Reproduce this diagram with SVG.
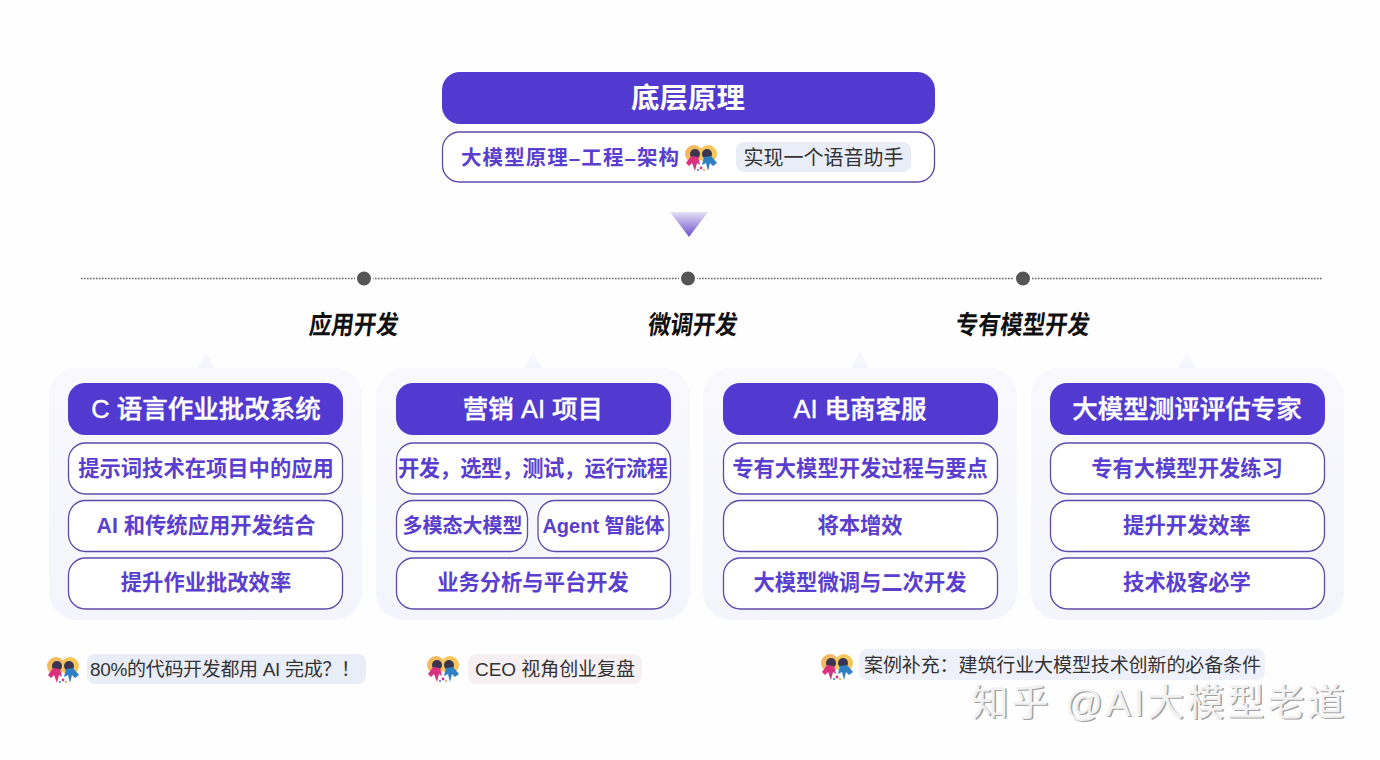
<svg xmlns="http://www.w3.org/2000/svg" width="1380" height="760" viewBox="0 0 1380 760">
<style>
text{font-family:"Liberation Sans","Noto Sans CJK SC",sans-serif;text-anchor:middle;dominant-baseline:central}
.card{fill:url(#cardGrad)}
.head{fill:#5239cf}
.row{fill:#fff;stroke:#5d4aa8;stroke-width:1.3}
.ht{fill:#fff;font-size:25.500px;font-weight:500;stroke:#fff;stroke-width:.4}
.rt{fill:#5a3fcf;font-size:21.300px;font-weight:700}
.tt{fill:#111;font-size:26px;font-weight:700}
.nt{fill:#333;font-size:19px;text-anchor:start}
</style>
<defs>
<linearGradient id="cardGrad" x1="0" y1="0" x2="0" y2="1"><stop offset="0" stop-color="#f8f8fd"/><stop offset="1" stop-color="#f4f5fc"/></linearGradient>
<linearGradient id="tri" x1="0" y1="0" x2="0" y2="1"><stop offset="0" stop-color="#e4e0f6"/><stop offset="1" stop-color="#6a50c8"/></linearGradient>
<symbol id="emoji" viewBox="0 0 32 26" overflow="visible">
<circle cx="9" cy="9" r="9" fill="#f3b95f"/><circle cx="23" cy="9" r="9" fill="#f6c65b"/>
<circle cx="10" cy="9" r="5" fill="#3a3550"/><circle cx="22" cy="9" r="5" fill="#3a3550"/>
<path d="M1 18L6 11L13 12L15 20L12 18L10 26L7 18L4 21Z" fill="#d9327e"/>
<path d="M17 20L19 12L26 11L32 18L28 21L25 18L23 26L21 18Z" fill="#2f7fc4"/>
<circle cx="16" cy="23" r="1.4" fill="#d9327e"/><circle cx="13" cy="25" r="1" fill="#2f7fc4"/><circle cx="19" cy="25" r="1" fill="#e9a13b"/>
</symbol>
</defs>
<rect width="1380" height="760" fill="#fefefe"/>
<g id="top-head"><rect x="442" y="72" width="493" height="52" rx="18" class="head"/><text x="688" y="98" fill="#fff" font-size="28.500" font-weight="700">底层原理</text></g>
<g id="top-sub"><rect x="442.500" y="132" width="492" height="50" rx="17" class="row"/>
<text x="461" y="157" class="rt" style="font-size:20.500px;text-anchor:start" textLength="218">大模型原理–工程–架构</text>
<use href="#emoji" x="685" y="145" width="32" height="26"/>
<rect x="736" y="142" width="175" height="30" rx="8" fill="#e9edf7"/>
<text x="823.500" y="157.500" fill="#333" font-size="20">实现一个语音助手</text></g>
<g id="connectors">
<path d="M670 212H708L689 237Z" fill="url(#tri)"/>
<line x1="81" y1="278.500" x2="1323" y2="278.500" stroke="#666" stroke-width="1.600" stroke-dasharray="1.600 1.400"/>
<circle cx="364" cy="278.500" r="8" fill="#555" stroke="#fff" stroke-width="2"/>
<circle cx="688" cy="278.500" r="8" fill="#555" stroke="#fff" stroke-width="2"/>
<circle cx="1023" cy="278.500" r="8" fill="#555" stroke="#fff" stroke-width="2"/>
</g>
<g id="titles">
<text class="tt" transform="translate(354 325) skewX(-7) scale(.86 1)">应用开发</text>
<text class="tt" transform="translate(693 325) skewX(-7) scale(.86 1)">微调开发</text>
<text class="tt" transform="translate(1023 325) skewX(-7) scale(.86 1)">专有模型开发</text>
</g>
<g id="card-1"><path d="M197 368L206 352L215 368Z" class="card"/><rect x="49" y="368" width="313" height="252" rx="28" class="card"/>
<rect x="68" y="383" width="275" height="52" rx="17" class="head"/><text x="206" y="409" class="ht">C 语言作业批改系统</text>
<rect x="68.500" y="443" width="274" height="51" rx="17" class="row"/><text x="206" y="468.500" class="rt">提示词技术在项目中的应用</text>
<rect x="68.500" y="500.500" width="274" height="51" rx="17" class="row"/><text x="206" y="525.500" class="rt">AI 和传统应用开发结合</text>
<rect x="68.500" y="558" width="274" height="51" rx="17" class="row"/><text x="206" y="583" class="rt">提升作业批改效率</text></g>
<g id="card-2"><path d="M524 368L533 352L542 368Z" class="card"/><rect x="376" y="368" width="314" height="252" rx="28" class="card"/>
<rect x="396" y="383" width="275" height="52" rx="17" class="head"/><text x="533" y="409" class="ht">营销 AI 项目</text>
<rect x="396.500" y="443" width="274" height="51" rx="17" class="row"/><text x="533" y="468.500" class="rt" textLength="270">开发，选型，测试，运行流程</text>
<rect x="396.500" y="500.500" width="131" height="51" rx="17" class="row"/><text x="462.500" y="525.500" class="rt" style="font-size:20px">多模态大模型</text>
<rect x="538" y="500.500" width="131" height="51" rx="17" class="row"/><text x="603.500" y="525.500" class="rt" style="font-size:20px">Agent 智能体</text>
<rect x="396.500" y="558" width="274" height="51" rx="17" class="row"/><text x="533" y="583" class="rt">业务分析与平台开发</text></g>
<g id="card-3"><path d="M851 368L860 352L869 368Z" class="card"/><rect x="703" y="368" width="314" height="252" rx="28" class="card"/>
<rect x="723" y="383" width="275" height="52" rx="17" class="head"/><text x="860" y="409" class="ht">AI 电商客服</text>
<rect x="723.500" y="443" width="274" height="51" rx="17" class="row"/><text x="860" y="468.500" class="rt">专有大模型开发过程与要点</text>
<rect x="723.500" y="500.500" width="274" height="51" rx="17" class="row"/><text x="860" y="525.500" class="rt">将本增效</text>
<rect x="723.500" y="558" width="274" height="51" rx="17" class="row"/><text x="860" y="583" class="rt">大模型微调与二次开发</text></g>
<g id="card-4"><path d="M1178 368L1187 352L1196 368Z" class="card"/><rect x="1031" y="368" width="313" height="252" rx="28" class="card"/>
<rect x="1050" y="383" width="275" height="52" rx="17" class="head"/><text x="1187" y="409" class="ht">大模型测评评估专家</text>
<rect x="1050.500" y="443" width="274" height="51" rx="17" class="row"/><text x="1187" y="468.500" class="rt">专有大模型开发练习</text>
<rect x="1050.500" y="500.500" width="274" height="51" rx="17" class="row"/><text x="1187" y="525.500" class="rt">提升开发效率</text>
<rect x="1050.500" y="558" width="274" height="51" rx="17" class="row"/><text x="1187" y="583" class="rt">技术极客必学</text></g>
<g id="note-1"><use href="#emoji" x="47" y="657" width="32" height="26"/><rect x="87" y="654" width="279" height="30" rx="8" fill="#e9edf7"/><text x="90" y="669" class="nt" textLength="270">80%的代码开发都用 AI 完成？！</text></g>
<g id="note-2"><use href="#emoji" x="427" y="656" width="32" height="26"/><rect x="468" y="654" width="174" height="30" rx="8" fill="#f7f0f2"/><text x="475" y="669" class="nt" textLength="160">CEO 视角创业复盘</text></g>
<g id="note-3"><use href="#emoji" x="821" y="654" width="32" height="26"/><rect x="859" y="649" width="406" height="31" rx="8" fill="#eef1fa"/><text x="864" y="665" class="nt" textLength="397">案例补充：建筑行业大模型技术创新的必备条件</text></g>
<g id="watermark"><text x="1159.500" y="704.500" fill="#a0a0a0" font-size="37" textLength="373">知乎 @AI大模型老道</text><text x="1158" y="703" fill="#f1f1f1" font-size="37" textLength="373">知乎 @AI大模型老道</text></g>
</svg>
